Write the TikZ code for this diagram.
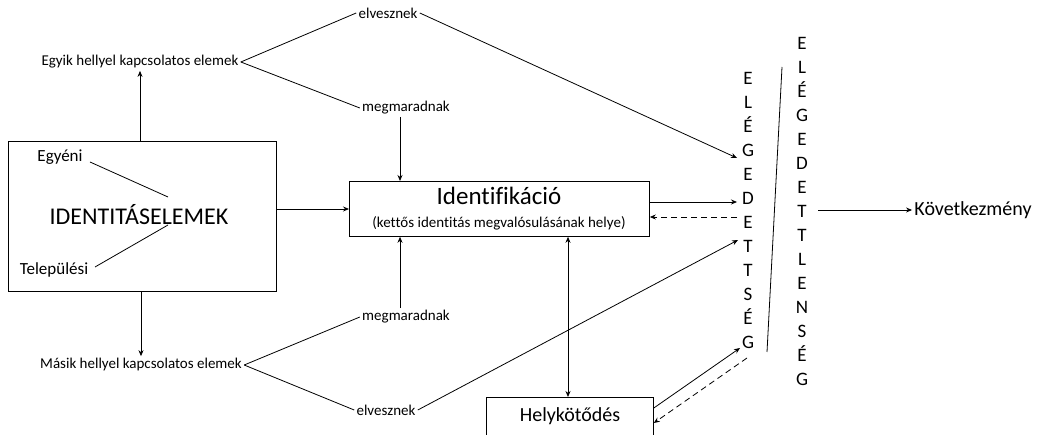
\documentclass[tikz,border=0pt]{standalone}
\usepackage{fontspec}
\setmainfont{Carlito}[Ligatures=CommonOff]
\usetikzlibrary{arrows.meta}
\begin{document}
\begin{tikzpicture}[x=1pt,y=-1pt, line width=0.8pt,
  >={Stealth[length=6pt,width=5pt]},
  lbl/.style={inner sep=2pt, font=\fontsize{15}{18}\selectfont},
  mid/.style={inner sep=2pt, font=\fontsize{17}{20}\selectfont},
  big/.style={inner sep=2pt, font=\fontsize{24}{28}\selectfont},
  large/.style={inner sep=2pt, font=\fontsize{20}{24}\selectfont},
  vl/.style={inner sep=0pt, anchor=base, font=\fontsize{19}{22}\selectfont},
  box/.style={draw, anchor=north west, inner sep=0pt}]
\useasboundingbox (0,0) rectangle (1041,435);
\clip (0,0) rectangle (1041,435);

% boxes
\node[box, minimum width=268pt, minimum height=150pt] (ie) at (8,141) {};
\node[box, minimum width=300pt, minimum height=55pt] (id) at (349,181) {};
\node[box, minimum width=167pt, minimum height=60pt] (hk) at (486,397) {};

% texts in boxes
\node[big] (iet) at (139,215) {IDENTITÁSELEMEK};
\node[mid] (egy) at (60,157) {Egyéni};
\node[mid] (tel) at (54,270) {Települési};
\node[font=\fontsize{25}{28}\selectfont, inner sep=0pt] (idt) at (499,196) {Identifikáció};
\node[lbl] (idk) at (499,223) {(kettős identitás megvalósulásának helye)};
\node[large] (hkt) at (570,416) {Helykötődés};

% labels
\node[lbl] (eg) at (140,62) {Egyik hellyel kapcsolatos elemek};
\node[lbl] (ma) at (141,365) {Másik hellyel kapcsolatos elemek};
\node[lbl] (el1) at (388,13) {elvesznek};
\node[lbl] (mm1) at (406,108) {megmaradnak};
\node[lbl] (mm2) at (406,317) {megmaradnak};
\node[lbl] (el2) at (386,410) {elvesznek};
\node[large] (kv) at (973,210) {Következmény};

% vertical words
\foreach \c [count=\i] in {E,L,É,G,E,D,E,T,T,S,É,G}
  \node[vl] (a\i) at (748,{84.5+24*(\i-1)}) {\c};
\foreach \c [count=\i] in {E,L,É,G,E,D,E,T,T,L,E,N,S,É,G}
  \node[vl] (b\i) at (802,{49.5+24*(\i-1)}) {\c};

% coordinates of free ends
\coordinate (t1) at (737,158);
\coordinate (t2) at (737,202);
\coordinate (t3) at (737,217);
\coordinate (t4) at (738,240);
\coordinate (t5) at (740,348);
\coordinate (t6) at (747,358);
\coordinate (s1) at (782,67);
\coordinate (s2) at (767,352);
\coordinate (k1) at (818,210);
\coordinate (eA) at (90,162);
\coordinate (eB) at (168,197);
\coordinate (eC) at (168,225);
\coordinate (eD) at (95,267);

% inner lines
\draw (eA) -- (eB);
\draw (eC) -- (eD);

% connectors
\draw[->] (ie.north -| eg) -- (eg.south);
\draw[->] (ie.south -| ma) -- (ma.north);
\draw (eg.east) -- (el1.west);
\draw (eg.east) -- (mm1.west);
\draw (ma.east) -- (mm2.west);
\draw (ma.east) -- (el2.west);
\draw[->] (el1.east) -- (t1);
\draw[->] (el2.east) -- (t4);
\draw[->] (mm1.south -| 400,0) -- (id.north -| 400,0);
\draw[->] (mm2.north -| 400,0) -- (id.south -| 400,0);
\draw[->] (ie.east |- 0,209) -- (id.west |- 0,209);
\draw[->] (id.east |- t2) -- (t2);
\draw[->, dash pattern=on 6pt off 4pt] (t3) -- (id.east |- t3);
\draw[<->] (id.south -| 568,0) -- (hk.north -| 568,0);
\draw[->] (hk.east |- 0,408) -- (t5);
\draw[->, dash pattern=on 6pt off 4pt] (t6) -- (hk.east |- 0,423);
\draw (s1) -- (s2);
\draw[->] (k1) -- (kv.west);
\end{tikzpicture}
\end{document}
